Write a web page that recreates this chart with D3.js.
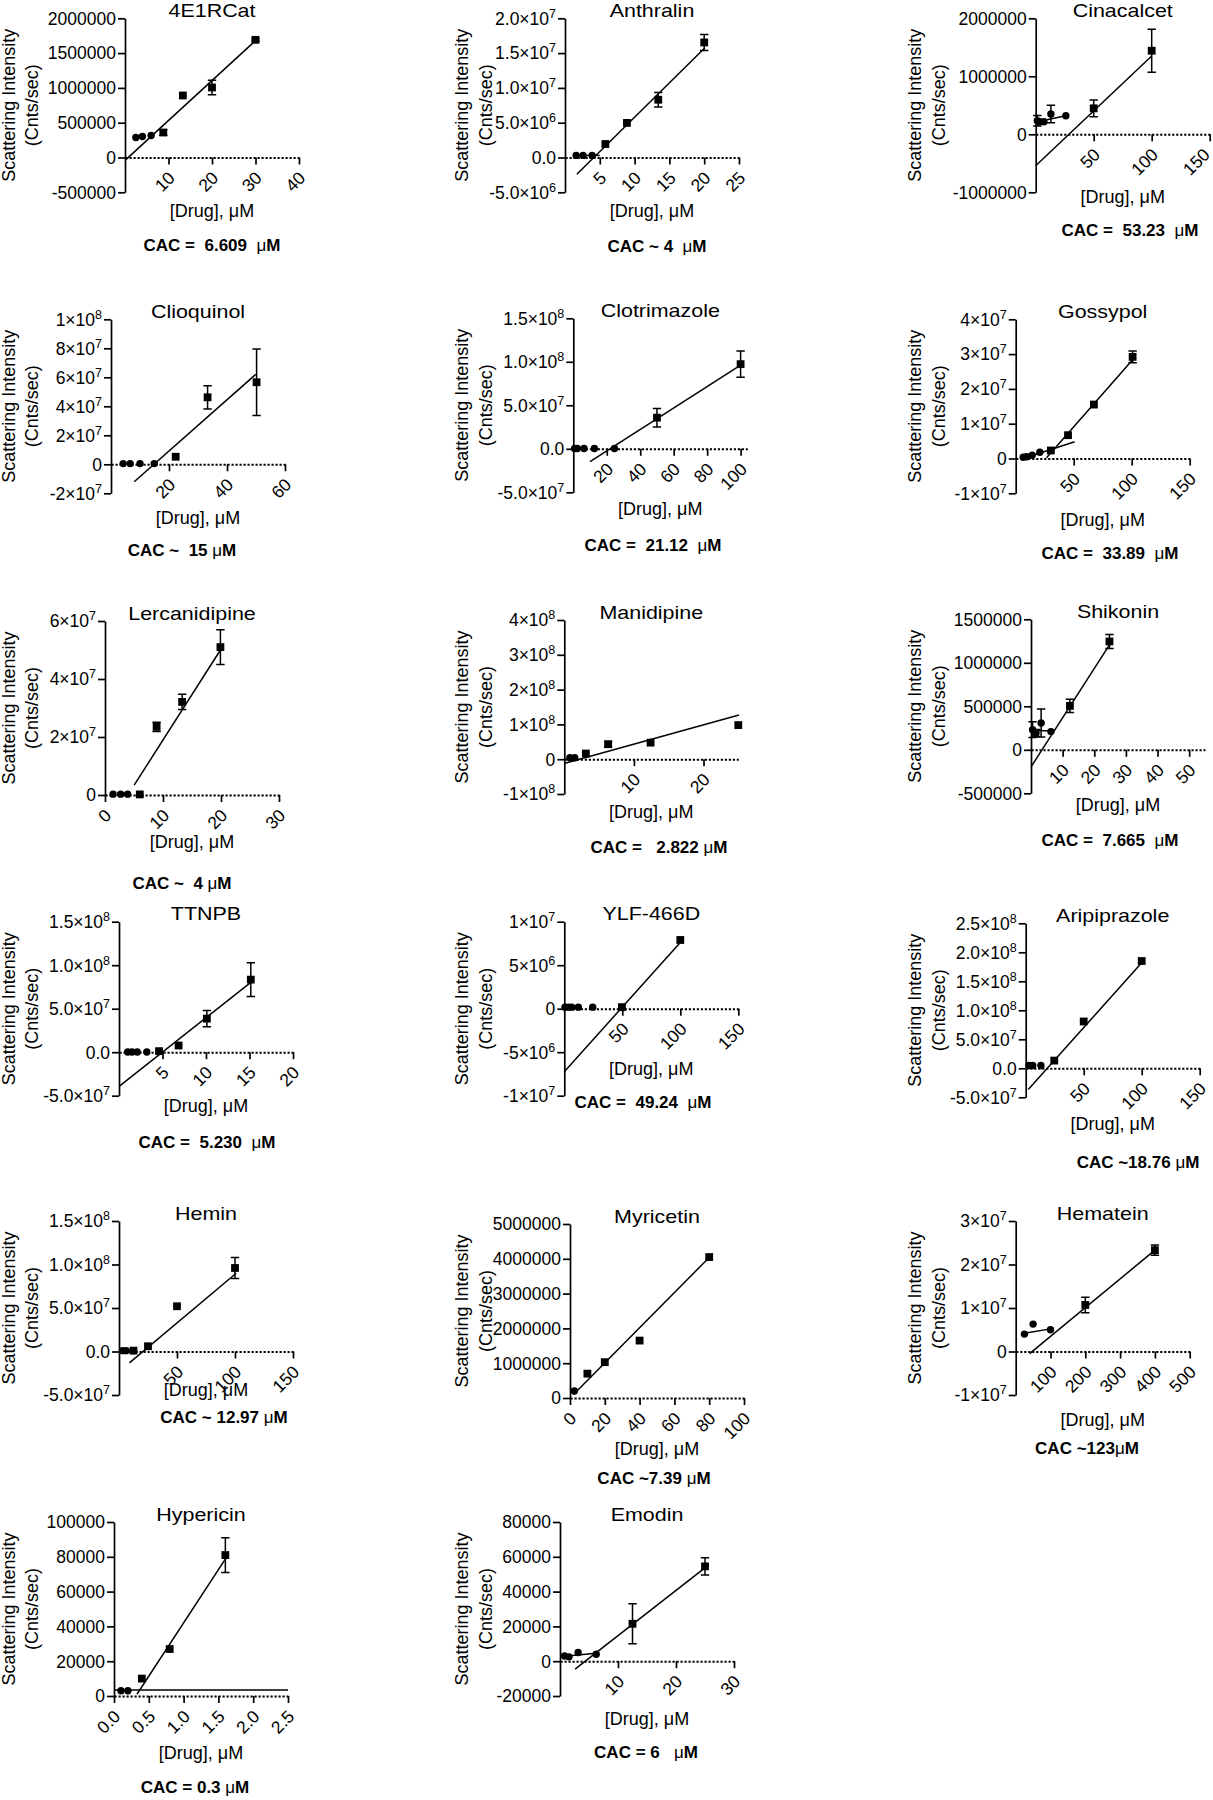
<!DOCTYPE html>
<html><head><meta charset="utf-8">
<script src="https://cdn.jsdelivr.net/npm/d3@7"></script>
<style>
body{margin:0;background:#fff;}
text{font-family:"Liberation Sans",Arial,Helvetica,sans-serif;fill:#000;}
</style></head><body>
<svg id="chart" width="1213" height="1800" xmlns="http://www.w3.org/2000/svg"></svg>
<script>
// ---------------- DATA ----------------
const drugs = ["4E1RCat","Anthralin","Cinacalcet","Clioquinol","Clotrimazole","Gossypol",
  "Lercanidipine","Manidipine","Shikonin","TTNPB","YLF-466D","Aripiprazole",
  "Hemin","Myricetin","Hematein","Hypericin","Emodin"];

const cacLabels = ["CAC =  6.609  μM","CAC ~ 4  μM","CAC =  53.23  μM","CAC ~  15 μM","CAC =  21.12  μM",
  "CAC =  33.89  μM","CAC ~  4 μM","CAC =   2.822 μM","CAC =  7.665  μM","CAC =  5.230  μM",
  "CAC =  49.24  μM","CAC ~18.76 μM","CAC ~ 12.97 μM","CAC ~7.39 μM","CAC ~123μM","CAC = 0.3 μM","CAC = 6   μM"];

const yDomains = [[-5e5,2e6],[-5e6,2e7],[-1e6,2e6],[-2e7,1e8],[-5e7,1.5e8],[-1e7,4e7],
  [0,6e7],[-1e8,4e8],[-5e5,1.5e6],[-5e7,1.5e8],[-1e7,1e7],[-5e7,2.5e8],
  [-5e7,1.5e8],[0,5e6],[-1e7,3e7],[0,1e5],[-2e4,8e4]];

const yTicks = [
  [-5e5,0,5e5,1e6,1.5e6,2e6],
  [-5e6,0,5e6,1e7,1.5e7,2e7],
  [-1e6,0,1e6,2e6],
  [-2e7,0,2e7,4e7,6e7,8e7,1e8],
  [-5e7,0,5e7,1e8,1.5e8],
  [-1e7,0,1e7,2e7,3e7,4e7],
  [0,2e7,4e7,6e7],
  [-1e8,0,1e8,2e8,3e8,4e8],
  [-5e5,0,5e5,1e6,1.5e6],
  [-5e7,0,5e7,1e8,1.5e8],
  [-1e7,-5e6,0,5e6,1e7],
  [-5e7,0,5e7,1e8,1.5e8,2e8,2.5e8],
  [-5e7,0,5e7,1e8,1.5e8],
  [0,1e6,2e6,3e6,4e6,5e6],
  [-1e7,0,1e7,2e7,3e7],
  [0,2e4,4e4,6e4,8e4,1e5],
  [-2e4,0,2e4,4e4,6e4,8e4]];

const yTickLabels = [
  ["-500000","0","500000","1000000","1500000","2000000"],
  ["-5.0×10^6","0.0","5.0×10^6","1.0×10^7","1.5×10^7","2.0×10^7"],
  ["-1000000","0","1000000","2000000"],
  ["-2×10^7","0","2×10^7","4×10^7","6×10^7","8×10^7","1×10^8"],
  ["-5.0×10^7","0.0","5.0×10^7","1.0×10^8","1.5×10^8"],
  ["-1×10^7","0","1×10^7","2×10^7","3×10^7","4×10^7"],
  ["0","2×10^7","4×10^7","6×10^7"],
  ["-1×10^8","0","1×10^8","2×10^8","3×10^8","4×10^8"],
  ["-500000","0","500000","1000000","1500000"],
  ["-5.0×10^7","0.0","5.0×10^7","1.0×10^8","1.5×10^8"],
  ["-1×10^7","-5×10^6","0","5×10^6","1×10^7"],
  ["-5.0×10^7","0.0","5.0×10^7","1.0×10^8","1.5×10^8","2.0×10^8","2.5×10^8"],
  ["-5.0×10^7","0.0","5.0×10^7","1.0×10^8","1.5×10^8"],
  ["0","1000000","2000000","3000000","4000000","5000000"],
  ["-1×10^7","0","1×10^7","2×10^7","3×10^7"],
  ["0","20000","40000","60000","80000","100000"],
  ["-20000","0","20000","40000","60000","80000"]];

const xDomains = [[0,40],[0,25],[0,150],[0,60],[0,104],[0,150],[0,30],[0,25],[0,55],[0,20],
  [0,150],[0,150],[0,150],[0,100],[0,500],[0,2.5],[0,30]];

const xTicks = [[10,20,30,40],[5,10,15,20,25],[50,100,150],[20,40,60],[20,40,60,80,100],[50,100,150],
  [0,10,20,30],[10,20],[10,20,30,40,50],[5,10,15,20],[50,100,150],[50,100,150],[50,100,150],
  [0,20,40,60,80,100],[100,200,300,400,500],[0,0.5,1,1.5,2,2.5],[10,20,30]];

const xTickLabels = [["10","20","30","40"],["5","10","15","20","25"],["50","100","150"],["20","40","60"],
  ["20","40","60","80","100"],["50","100","150"],["0","10","20","30"],["10","20"],["10","20","30","40","50"],
  ["5","10","15","20"],["50","100","150"],["50","100","150"],["50","100","150"],
  ["0","20","40","60","80","100"],["100","200","300","400","500"],["0.0","0.5","1.0","1.5","2.0","2.5"],["10","20","30"]];

// below-CAC points (circles)
const circleX = [[2.5,4,6],[1.6,2.6,3.9],[1.4,3.7,7.1,13.1,26],[4.2,6.6,10,14.9],[0.8,2.4,6.4,12.6,24.6],
  [6.5,9.4,14.2,20.8],[1.4,2.7,3.9],[0.8,1.5],[0.5,1.6,3.2,6.3],[1.0,1.5,2.1,3.2],[0.6,3.5,6.4,12.1,24.5],
  [2.8,6,13.1],[3.1,6.2,12.5],[2.5],[25,50,100],[0.1,0.2],[0.78,1.56,3.13,6.25]];
const circleY = [[287000,302000,316000],[3e5,3e5,3e5],[234000,217000,217000,350000,321000],[5e5,5e5,5e5,5e5],
  [3e5,3e5,3e5,3e5,3e5],[3.7e5,5e5,9.5e5,1.8e6],[3e5,3e5,3e5],[4e6,4e6],[2.31e5,1.94e5,3.08e5,2.09e5],
  [3e5,3e5,3e5,3e5],[1.8e5,1.8e5,1.8e5,1.8e5,1.8e5],[4.7e6,4.7e6,4.7e6],[1e6,1e6,1e6],[2e5],
  [4e6,6.3e6,5e6],[3000,3000],[3000,2500,5000,4000]];
const circleErr = [[0,0,0],[0,0,0],[90000,30000,0,150000,0],[0,0,0,0],[0,0,0,0,0],[0,0,0,0],[0,0,0],[0,0],
  [9e4,4e4,1.6e5,0],[0,0,0,0],[0,0,0,0,0],[0,0,0],[0,0,0],[0],[0,0,0],[0,0],[0,0,0,0]];

// above-CAC points (squares)
const squareX = [[8.8,13.3,20,30],[5.8,8.9,13.4,20],[50,100],[22.3,33.3,50.2],[50,100],[30.3,45.1,67.4,100.8],
  [6,8.9,13.3,19.9],[3.1,6.3,12.4,25],[12.3,24.8],[4.6,6.85,10.1,15.15],[49.7,100],[24.6,50,100],
  [12.5,25,50,100],[10,20,40,80],[200,400],[0.4,0.8,1.6],[12.5,25]];
const squareY = [[359000,891000,1006000,1691000],[1.94e6,4.97e6,8.3e6,1.653e7],[448000,1441000],
  [5.2e6,4.62e7,5.66e7],[3.58e7,9.73e7],[2.3e6,6.7e6,1.55e7,2.92e7],[2e5,2.35e7,3.21e7,5.1e7],
  [1.63e7,4.3e7,4.76e7,9.8e7],[5.05e5,1.245e6],[1.2e6,7.7e6,3.86e7,8.34e7],[1.8e5,7.9e6],
  [1.33e7,8.07e7,1.85e8],[1e6,6e6,5.2e7,9.6e7],[7e5,1.03e6,1.65e6,4.05e6],[1.07e7,2.33e7],
  [10000,27000,81000],[21500,54500]];
const squareErr = [[40000,0,103000,20000],[0,0,1.05e6,1.15e6],[145000,370000],[0,8e6,2.3e7],[1.06e7,1.5e7],
  [0,0,0,1.7e6],[0,1.6e6,2.6e6,6e6],[0,8e6,0,0],[7.5e4,8e4],[0,0,9.4e6,1.95e7],[0,0],[0,0,0],
  [0,0,0,1.2e7],[0,0,0,0],[1.8e6,1.2e6],[0,0,10000],[11500,5000]];

// linear fits: [x1, y1, x2, y2]
const highFits = [[0.2,-30000,30,1680000],[1.7,-2.4e6,20,1.566e7],[0,-541000,100,1350000],[8,-1.2e7,49.9,6.2e7],
  [10,-1.47e7,100,9.62e7],[26.6,2e5,100.8,2.84e7],[5.03,3.4e6,19.9,5.0e7],[0.1,-1.14e7,25.1,1.27e8],
  [0,-1.97e5,24.8,1.207e6],[0.05,-3.9e7,15.15,8.03e7],[0,-7.25e6,100,7.62e6],[2.2,-3.67e7,100,1.82e8],
  [9,-1.3e7,101,9.0e7],[2,1e5,82,4.14e6],[40,-5e5,400,2.33e7],[0.33,1000,1.62,80000],[2.6,-4600,25.7,55500]];
const lowFits = [null,[1.6,3e5,5,3e5],[1.4,215000,26,320000],null,null,[6.5,0,50.8,4.8e6],null,null,
  [0.5,2.25e5,6.3,2.15e5],null,null,null,null,null,[25,4.2e6,100,5.2e6],[0,3500,2.5,3500],[0.78,2800,6.25,4500]];

// ---------------- LAYOUT ----------------
const panelLayout = [
 {ax:125, top:18.3, xlab:217, cac:251, cacX:212, yl:8.3},
 {ax:565, top:18.3, xlab:217, cac:252, cacX:657, yl:461.7},
 {ax:1035.7, top:18.3, xlab:203, cac:236, cacX:1130, yl:915},
 {ax:111, top:319.3, xlab:524, cac:556, cacX:182, yl:8.3},
 {ax:573.3, top:318.3, xlab:515, cac:551, cacX:653, yl:461.7},
 {ax:1015.7, top:319.3, xlab:526, cac:559, cacX:1110, yl:915},
 {ax:105, top:621, xlab:848, cac:889, cacX:182, yl:8.3},
 {ax:564.3, top:620, xlab:818, cac:853, cacX:659, yl:461.7},
 {ax:1031, top:619.3, xlab:811, cac:846, cacX:1110, yl:915},
 {ax:119, top:921.7, xlab:1112, cac:1148, cacX:207, yl:8.3},
 {ax:564.3, top:921.7, xlab:1075, cac:1108, cacX:643, yl:461.7},
 {ax:1025.7, top:923.3, xlab:1130, cac:1168, cacX:1138, yl:915},
 {ax:119, top:1221, xlab:1396, cac:1423, cacX:224, yl:8.3},
 {ax:570, top:1224, xlab:1455, cac:1484, cacX:654, yl:461.7},
 {ax:1015.7, top:1221, xlab:1426, cac:1454, cacX:1087, yl:915},
 {ax:114, top:1522, xlab:1759, cac:1793, cacX:195, yl:8.3},
 {ax:560, top:1522, xlab:1725, cac:1758, cacX:646, yl:461.7}
];
const W = 174, H = 174;
const PAGE_W = 1213;

const svg = d3.select("#chart");

function addSciText(sel, label) {
  const parts = label.split("^");
  sel.append("tspan").text(parts[0]);
  if (parts.length > 1) {
    sel.append("tspan").attr("dy", -7).attr("font-size", 12.5).text(parts[1]);
  }
}

drugs.forEach((name, i) => {
  const L = panelLayout[i];
  const x = d3.scaleLinear().domain(xDomains[i]).range([L.ax, L.ax + W]);
  const y = d3.scaleLinear().domain(yDomains[i]).range([L.top + H, L.top]);
  const g = svg.append("g");
  const y0 = y(0);
  const cx = L.ax + W / 2;

  // title (slightly wide letterforms as in the reference)
  g.append("text").attr("transform", `translate(${cx},${L.top - 1.5}) scale(1.16,1)`)
    .attr("text-anchor", "middle").attr("font-size", 18.5).text(name);

  // y axis
  const yAx = g.append("g").attr("transform", `translate(${L.ax},0)`)
    .call(d3.axisLeft(y).tickValues(yTicks[i]).tickSize(7).tickSizeOuter(0).tickFormat(""));
  yAx.selectAll("path,line").attr("stroke", "#000").attr("stroke-width", 1.7);
  yTicks[i].forEach((v, k) => {
    const t = g.append("text").attr("x", L.ax - 9).attr("y", y(v)).attr("dy", "0.36em")
      .attr("text-anchor", "end").attr("font-size", 17.5);
    addSciText(t, yTickLabels[i][k]);
  });

  // x axis at y = 0 (dotted line)
  const xAx = g.append("g").attr("transform", `translate(0,${y0})`)
    .call(d3.axisBottom(x).tickValues(xTicks[i]).tickSize(7).tickSizeOuter(0).tickFormat(""));
  xAx.selectAll("line").attr("stroke", "#000").attr("stroke-width", 1.7);
  xAx.select("path.domain").attr("stroke", "#000").attr("stroke-width", 1.9).attr("stroke-dasharray", "2.2,1.8");
  xTicks[i].forEach((v, k) => {
    const tx = Math.min(x(v) + 7.5, PAGE_W - 2);
    g.append("text").attr("text-anchor", "end").attr("font-size", 17.5)
      .attr("transform", `translate(${tx},${y0 + 21.5}) rotate(-45)`)
      .text(xTickLabels[i][k]);
  });

  // axis titles
  g.append("text").attr("x", cx).attr("y", L.xlab).attr("text-anchor", "middle")
    .attr("font-size", 18).text("[Drug], μM");
  const yc = L.top + H / 2;
  g.append("text").attr("transform", `translate(${L.yl},${yc}) rotate(-90)`).attr("dy", "0.36em")
    .attr("text-anchor", "middle").attr("font-size", 18).text("Scattering Intensity");
  g.append("text").attr("transform", `translate(${L.yl + 23.4},${yc}) rotate(-90)`).attr("dy", "0.36em")
    .attr("text-anchor", "middle").attr("font-size", 18).text("(Cnts/sec)");

  // CAC label
  const cac = g.append("text").attr("x", L.cacX).attr("y", L.cac).attr("text-anchor", "middle")
    .attr("font-size", 17).attr("font-weight", "bold").style("white-space", "pre");
  const cp = cacLabels[i].split("μ");
  cac.append("tspan").text(cp[0]);
  cac.append("tspan").attr("font-weight", "normal").text("μ");
  cac.append("tspan").text(cp[1]);

  // fit lines
  const line = d3.line().x(d => x(d[0])).y(d => y(d[1]));
  const fits = [highFits[i], lowFits[i]].filter(f => f);
  g.selectAll(null).data(fits).enter().append("path")
    .attr("d", f => line([[f[0], f[1]], [f[2], f[3]]]))
    .attr("stroke", "#000").attr("stroke-width", 1.5).attr("fill", "none");

  // error bars
  const errs = [];
  circleX[i].forEach((v, k) => { if (circleErr[i][k]) errs.push([v, circleY[i][k], circleErr[i][k]]); });
  squareX[i].forEach((v, k) => { if (squareErr[i][k]) errs.push([v, squareY[i][k], squareErr[i][k]]); });
  errs.forEach(e => {
    const ex = x(e[0]);
    g.append("path")
      .attr("d", `M${ex},${y(e[1] + e[2])}V${y(e[1] - e[2])}M${ex - 4.2},${y(e[1] + e[2])}H${ex + 4.2}M${ex - 4.2},${y(e[1] - e[2])}H${ex + 4.2}`)
      .attr("stroke", "#000").attr("stroke-width", 1.5).attr("fill", "none");
  });

  // markers
  g.selectAll(null).data(circleX[i].map((v, k) => [v, circleY[i][k]])).enter().append("circle")
    .attr("cx", d => x(d[0])).attr("cy", d => y(d[1])).attr("r", 3.7).attr("fill", "#000");
  g.selectAll(null).data(squareX[i].map((v, k) => [v, squareY[i][k]])).enter().append("rect")
    .attr("x", d => x(d[0]) - 3.9).attr("y", d => y(d[1]) - 3.9).attr("width", 7.8).attr("height", 7.8).attr("fill", "#000");
});
</script>
</body></html>
